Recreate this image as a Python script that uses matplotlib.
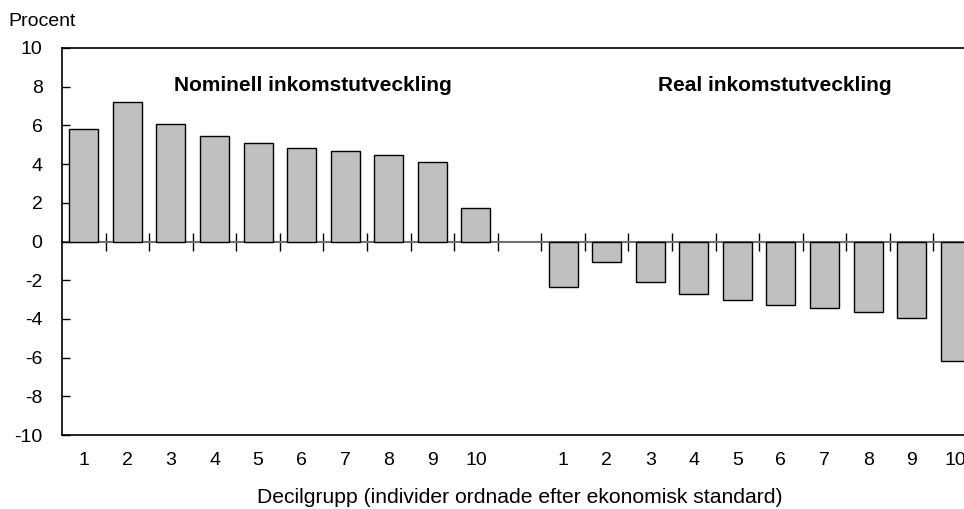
import matplotlib
matplotlib.use("Agg")
import matplotlib.pyplot as plt
import numpy as np

plt.rcParams['font.family'] = ['Liberation Sans', 'DejaVu Sans']

deciles = ["1", "2", "3", "4", "5", "6", "7", "8", "9", "10"]
nominal = [5.83, 7.22, 6.09, 5.45, 5.09, 4.83, 4.67, 4.45, 4.12, 1.73]
real = [-2.36, -1.05, -2.10, -2.70, -3.04, -3.27, -3.44, -3.63, -3.93, -6.15]
title_nominal = "Nominell inkomstutveckling"
title_real = "Real inkomstutveckling"
ylabel = "Procent"
xlabel = "Decilgrupp (individer ordnade efter ekonomisk standard)"
yticks = list(range(-10, 11, 2))

n = len(deciles)
pos_nom = np.arange(n)
pos_real = np.arange(n) + n + 1
all_pos = np.concatenate([pos_nom, pos_real])

W, H = 964, 509
fig = plt.figure(figsize=(W / 100, H / 100), dpi=100)
ax = fig.add_axes([62 / W, (H - 435) / H, (977 - 62) / W, (435 - 48) / H])

bar_kw = dict(width=0.665, color="#c0c0c0", edgecolor="black", linewidth=1.0, zorder=3)
ax.bar(pos_nom, nominal, **bar_kw)
ax.bar(pos_real, real, **bar_kw)

ax.set_xlim(-0.5, all_pos[-1] + 0.5)
ax.set_ylim(-10, 10)
ax.set_yticks(yticks)
ax.set_yticklabels([str(v) for v in yticks])
ax.tick_params(axis="y", direction="in", length=6, width=1, labelsize=14, pad=14, color="black")
ax.set_xticks(all_pos)
ax.set_xticklabels(deciles + deciles)
ax.tick_params(axis="x", length=0, labelsize=14, pad=12)
for s in ["left", "top", "bottom"]:
    ax.spines[s].set_linewidth(1.2)
    ax.spines[s].set_color("black")
ax.spines["right"].set_visible(False)

# zero line with crossing tick marks at category boundaries
sec = ax.secondary_xaxis(0.5)
sec.set_alignment("bottom")
for s in ["top", "bottom"]:
    sec.spines[s].set_color("#707070")
    sec.spines[s].set_linewidth(1.5)
sec.set_xticks(np.arange(0.5, all_pos[-1], 1.0))
sec.tick_params(axis="x", direction="inout", length=13, width=1, color="black",
                labelbottom=False, labeltop=False)

ax.text(0.2738, 0.8876, title_nominal, transform=ax.transAxes, ha="center", va="baseline",
        fontsize=15, fontweight="bold")
ax.text(0.779, 0.8876, title_real, transform=ax.transAxes, ha="center", va="baseline",
        fontsize=15, fontweight="bold")

fig.text(8 / W, 1 - 26 / H, ylabel, fontsize=14, ha="left", va="baseline")
fig.text(519.5 / W, 1 - 503 / H, xlabel, fontsize=15.2, ha="center", va="baseline")

fig.savefig("out.png", dpi=100)
